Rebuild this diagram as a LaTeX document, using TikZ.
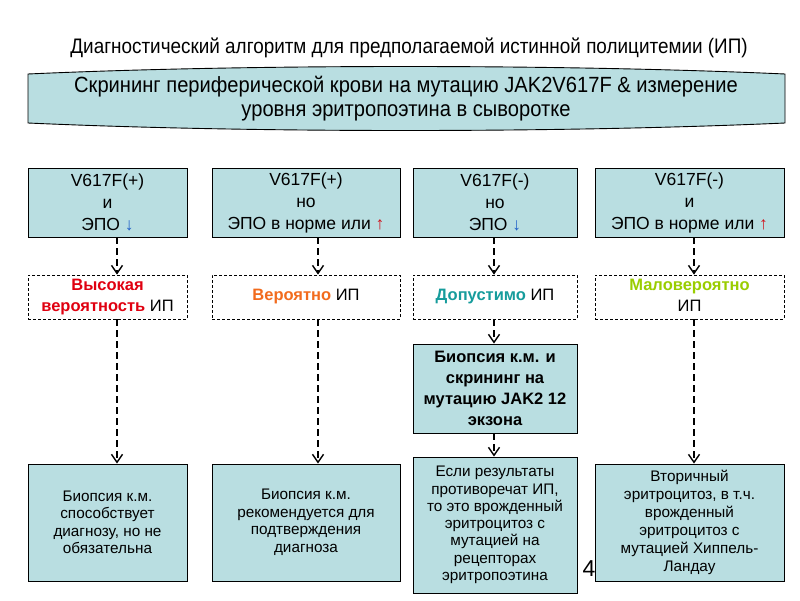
\documentclass[tikz,border=0pt]{standalone}
\usepackage{fontspec}
\setmainfont{Liberation Sans}
\newfontfamily\narrowfont{Liberation Sans}[FakeStretch=0.90]
\newfontfamily\narrowtopfont{Liberation Sans}[FakeStretch=0.915]
\usetikzlibrary{arrows.meta}
\pgfdeclarelayer{bg}
\pgfsetlayers{bg,main}
\definecolor{boxfill}{HTML}{B9DEE1}
\definecolor{cred}{HTML}{E00010}
\definecolor{corange}{HTML}{F26B1D}
\definecolor{cteal}{HTML}{169C9C}
\definecolor{cgreen}{HTML}{9ACD00}
\definecolor{arblue}{HTML}{1F5FC8}
\definecolor{arred}{HTML}{D0101A}
\tikzset{
  solidbox/.style={draw=black, line width=0.9pt, fill=boxfill, inner sep=0pt, align=center},
  dashbox/.style={draw=black, line width=0.8pt, dash pattern=on 3pt off 2pt, fill=white, inner sep=0pt, align=center},
  arr/.style={line width=1.7pt, -{Straight Barb[length=8pt,width=11pt,line width=1.4pt]}},
  darr/.style={arr, dash pattern=on 7pt off 4pt},
  rowtwo/.style={font=\fontsize{17.5}{22}\selectfont},
  rowthree/.style={font=\fontsize{16.5}{21}\selectfont\bfseries},
  rowfive/.style={font=\fontsize{15.3}{17.5}\selectfont},
}
\begin{document}
\begin{tikzpicture}[x=1pt,y=-1pt]
\useasboundingbox[fill=white] (0,0) rectangle (800,600);

% column coordinates
\coordinate (c1) at (117,0);
\coordinate (c2) at (318,0);
\coordinate (c3) at (494,0);
\coordinate (c4) at (694,0);

% title
\node[font=\narrowfont\fontsize{21}{24}\selectfont] (title) at (409,48) {Диагностический алгоритм для предполагаемой истинной полицитемии (ИП)};

% top shape
\draw[line width=0.9pt, fill=boxfill] (28,74) .. controls (250,64) and (560,64) .. (785,74) -- (785,123) .. controls (560,133) and (250,133) .. (28,123) -- cycle;
\node[font=\narrowtopfont\fontsize{22}{24}\selectfont, align=center, minimum width=757pt, minimum height=52pt, inner sep=0pt] (top) at (406,99) {Скрининг периферической крови на мутацию JAK2V617F \& измерение\\уровня эритропоэтина в сыворотке};

% row 2
\node[solidbox, rowtwo, minimum width=159pt, minimum height=69pt] (b1) at (107.5,202.5) {V617F(+)\\и\\ЭПО {\color{arblue}↓}};
\node[solidbox, rowtwo, minimum width=188pt, minimum height=69pt] (b2) at (306,202.5) {V617F(+)\\но\\ЭПО в норме или {\color{arred}↑}};
\node[solidbox, rowtwo, minimum width=164pt, minimum height=69pt] (b3) at (495,202.5) {V617F(-)\\но\\ЭПО {\color{arblue}↓}};
\node[solidbox, rowtwo, minimum width=189pt, minimum height=69pt] (b4) at (689.5,202.5) {V617F(-)\\и\\ЭПО в норме или {\color{arred}↑}};

% row 3
\node[dashbox, rowthree, minimum width=159pt, minimum height=44pt] (r1) at (107.5,297) {\strut{\color{cred}Высокая}\\{\color{cred}вероятность} \mdseries ИП\strut};
\node[dashbox, rowthree, minimum width=188pt, minimum height=44pt] (r2) at (306,297) {{\color{corange}Вероятно} \mdseries ИП};
\node[dashbox, rowthree, minimum width=164pt, minimum height=44pt] (r3) at (495,297) {{\color{cteal}Допустимо} \mdseries ИП};
\node[dashbox, rowthree, minimum width=189pt, minimum height=44pt] (r4) at (689.5,297) {\strut{\color{cgreen}Маловероятно}\\\mdseries ИП\strut};

% column 3 biopsy
\node[solidbox, rowthree, minimum width=164pt, minimum height=89pt] (bio) at (495,388.5) {Биопсия к.м. и\\скрининг на\\мутацию JAK2 12\\экзона};

% row 5
\node[solidbox, rowfive, minimum width=159pt, minimum height=117pt] (f1) at (107.5,522.5) {Биопсия к.м.\\способствует\\диагнозу, но не\\обязательна};
\node[solidbox, rowfive, minimum width=188pt, minimum height=117pt] (f2) at (306,522.5) {Биопсия к.м.\\рекомендуется для\\подтверждения\\диагноза};
\node[solidbox, font=\fontsize{15.3}{17.3}\selectfont, minimum width=164pt, minimum height=136pt] (f3) at (495,525) {Если результаты\\противоречат ИП,\\то это врожденный\\эритроцитоз с\\мутацией на\\рецепторах\\эритропоэтина};
\node[solidbox, font=\fontsize{15.3}{18}\selectfont, minimum width=189pt, minimum height=117pt] (f4) at (689.5,522.5) {Вторичный\\эритроцитоз, в т.ч.\\врожденный\\эритроцитоз с\\мутацией Хиппель-\\Ландау};

% slide number
\node[font=\fontsize{23}{24}\selectfont, inner sep=0pt] (num) at (589,569) {4};

% connectors
\begin{pgfonlayer}{bg}
\foreach \b/\c in {b1/c1,b2/c2,b3/c3,b4/c4}
  \draw[arr] (top.center -| \c) -- (\b.north -| \c);
\end{pgfonlayer}
\draw[darr] (b1.south -| c1) -- (r1.north -| c1);
\draw[darr] (b2.south -| c2) -- (r2.north -| c2);
\draw[darr] (b3.south -| c3) -- (r3.north -| c3);
\draw[darr] (b4.south -| c4) -- (r4.north -| c4);
\draw[darr] (r1.south -| c1) -- (f1.north -| c1);
\draw[darr] (r2.south -| c2) -- (f2.north -| c2);
\draw[darr] (r3.south -| c3) -- (bio.north -| c3);
\draw[darr] (bio.south -| c3) -- (f3.north -| c3);
\draw[darr] (r4.south -| c4) -- (f4.north -| c4);
\end{tikzpicture}
\end{document}
